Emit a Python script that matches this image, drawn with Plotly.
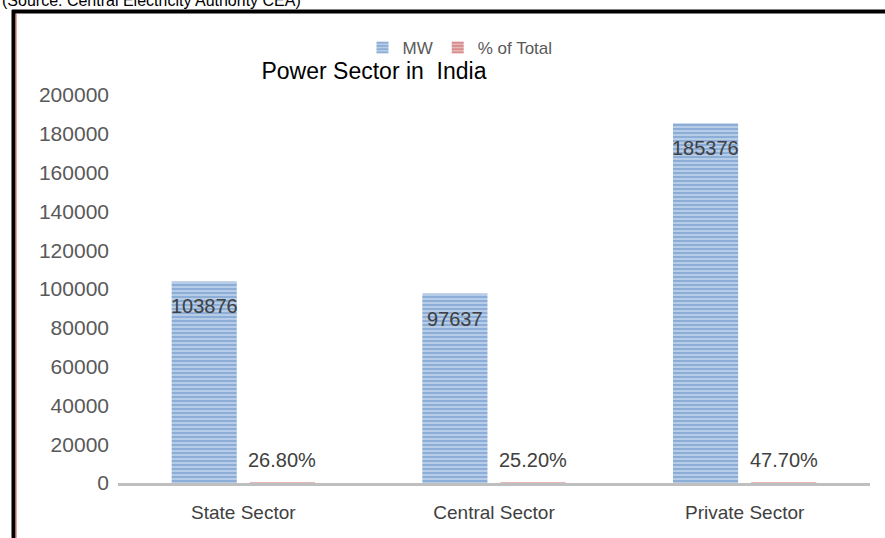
import plotly.graph_objects as go

categories = ["State Sector", "Central Sector", "Private Sector"]
mw_values = [103876, 97637, 185376]
pct_values = [26.8, 25.2, 47.7]
pct_labels = ["26.80%", "25.20%", "47.70%"]
y_ticks = [0, 20000, 40000, 60000, 80000, 100000, 120000, 140000, 160000, 180000, 200000]
y_tick_text = [str(v) for v in y_ticks]

W, H = 885, 538
L, R, T, B = 118, 15, 95, 55
pw, ph = W - L - R, H - T - B

def px(x):
    return (x - L) / pw

def py(y):
    return (H - B - y) / ph

FONT = "Liberation Sans"

fig = go.Figure()
fig.add_trace(go.Bar(
    name="MW", x=categories, y=mw_values,
    marker=dict(color="#c9d8ec", line=dict(width=0),
                pattern=dict(shape="-", fgcolor="#4f81bd", bgcolor="#c9d8ec",
                             size=4, solidity=0.65, fillmode="overlay")),
))
fig.add_trace(go.Bar(
    name="% of Total", x=categories, y=pct_values,
    marker=dict(color="#ecc9c8", line=dict(width=0),
                pattern=dict(shape="-", fgcolor="#c0504d", bgcolor="#ecc9c8",
                             size=4, solidity=0.65, fillmode="overlay")),
))

# data labels (from the data lists)
for cat, v in zip(categories, mw_values):
    fig.add_annotation(x=cat, y=v, text=str(v), showarrow=False,
                       xshift=-39, yshift=-25, yanchor="middle",
                       font=dict(family=FONT, size=20, color="#404040"))
for cat, v, lab in zip(categories, pct_values, pct_labels):
    fig.add_annotation(x=cat, y=v, text=lab, showarrow=False,
                       xshift=39, yshift=23, yanchor="middle",
                       font=dict(family=FONT, size=20, color="#404040"))

fig.update_layout(
    width=W, height=H,
    margin=dict(l=L, r=R, t=T, b=B, autoexpand=False),
    paper_bgcolor="white", plot_bgcolor="white",
    barmode="group", bargap=0.376, bargroupgap=0.167,
    font=dict(family=FONT, color="#595959"),
    title=dict(text="Power Sector in  India", x=374 / W, xanchor="center",
               y=(H - 71) / H, yanchor="middle",
               font=dict(family=FONT, size=23, color="#000000")),
    legend=dict(orientation="h", x=px(460), xanchor="center", y=py(48), yanchor="middle",
                font=dict(family=FONT, size=17, color="#595959"),
                itemwidth=30, bgcolor="rgba(0,0,0,0)"),
    xaxis=dict(showline=True, linecolor="#bfbfbf", linewidth=3, ticks="",
               showgrid=False, ticklabelstandoff=10,
               tickfont=dict(family=FONT, size=19, color="#404040")),
    yaxis=dict(range=[0, 200000], tickvals=y_ticks, ticktext=y_tick_text,
               showgrid=False, zeroline=False,
               showline=False, ticks="", ticklabelstandoff=8,
               tickfont=dict(family=FONT, size=21, color="#595959")),
    showlegend=True,
)

# black frame lines (left and top)
fig.add_shape(type="line", xref="paper", yref="paper",
              x0=px(13.5), x1=px(13.5), y0=py(10), y1=py(540),
              line=dict(color="black", width=4))
fig.add_shape(type="line", xref="paper", yref="paper",
              x0=px(12), x1=px(890), y0=py(11.5), y1=py(11.5),
              line=dict(color="black", width=4))
fig.add_shape(type="line", xref="paper", yref="paper",
              x0=px(16), x1=px(16), y0=py(14), y1=py(540),
              line=dict(color="#c0504d", width=1))

fig.add_annotation(text="(Source: Central Electricity Authority CEA)",
                   xref="paper", yref="paper", x=px(0), xanchor="left",
                   y=py(1), yanchor="middle", showarrow=False,
                   font=dict(family=FONT, size=16, color="#000000"))

fig.write_html("out.html", config={"displayModeBar": False},
               post_script="document.body.style.margin='0px';document.body.style.overflow='hidden';")
